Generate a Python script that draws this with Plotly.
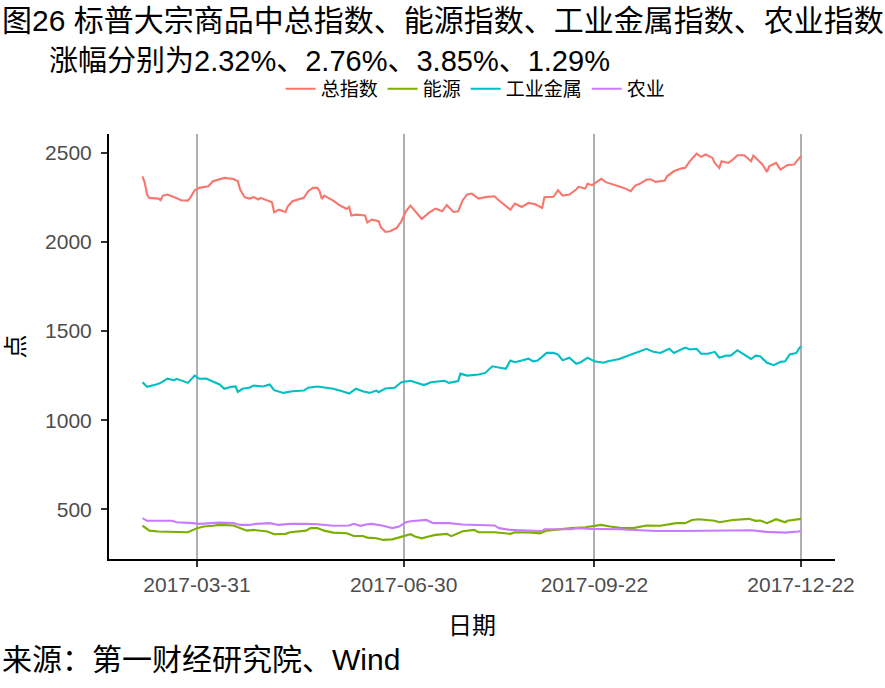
import plotly.graph_objects as go

# ---------------- data ----------------
SERIES_NAMES = ["总指数", "能源", "工业金属", "农业"]
SERIES_COLORS = ["#F8766D", "#7CAE00", "#00BFC4", "#C77CFF"]

TOTAL = [
    ("2017-03-07", 2367), ("2017-03-08", 2330), ("2017-03-09", 2265), ("2017-03-10", 2246),
    ("2017-03-14", 2242), ("2017-03-15", 2233), ("2017-03-16", 2259), ("2017-03-18", 2265),
    ("2017-03-21", 2250), ("2017-03-24", 2233), ("2017-03-27", 2231), ("2017-03-28", 2246),
    ("2017-03-30", 2289), ("2017-04-01", 2302), ("2017-04-05", 2311), ("2017-04-07", 2339),
    ("2017-04-12", 2358), ("2017-04-14", 2355), ("2017-04-16", 2352), ("2017-04-18", 2339),
    ("2017-04-19", 2293), ("2017-04-21", 2250), ("2017-04-23", 2242), ("2017-04-25", 2250),
    ("2017-04-27", 2237), ("2017-04-28", 2246), ("2017-05-01", 2231), ("2017-05-03", 2222),
    ("2017-05-04", 2165), ("2017-05-06", 2180), ("2017-05-09", 2167), ("2017-05-10", 2199),
    ("2017-05-12", 2227), ("2017-05-15", 2240), ("2017-05-17", 2246), ("2017-05-19", 2283),
    ("2017-05-21", 2302), ("2017-05-23", 2302), ("2017-05-24", 2283), ("2017-05-25", 2240),
    ("2017-05-26", 2259), ("2017-05-30", 2231), ("2017-06-02", 2203), ("2017-06-05", 2184),
    ("2017-06-06", 2195), ("2017-06-07", 2147), ("2017-06-09", 2152), ("2017-06-13", 2147),
    ("2017-06-14", 2109), ("2017-06-16", 2124), ("2017-06-19", 2115), ("2017-06-20", 2081),
    ("2017-06-22", 2055), ("2017-06-24", 2059), ("2017-06-27", 2078), ("2017-06-29", 2115),
    ("2017-07-01", 2171), ("2017-07-03", 2203), ("2017-07-05", 2171), ("2017-07-08", 2128),
    ("2017-07-11", 2162), ("2017-07-14", 2186), ("2017-07-17", 2171), ("2017-07-19", 2205),
    ("2017-07-22", 2167), ("2017-07-24", 2171), ("2017-07-26", 2233), ("2017-07-28", 2265),
    ("2017-07-30", 2270), ("2017-08-02", 2242), ("2017-08-05", 2250), ("2017-08-09", 2255),
    ("2017-08-11", 2231), ("2017-08-16", 2180), ("2017-08-18", 2214), ("2017-08-21", 2195),
    ("2017-08-24", 2218), ("2017-08-27", 2210), ("2017-08-30", 2190), ("2017-08-31", 2250),
    ("2017-09-04", 2252), ("2017-09-06", 2289), ("2017-09-08", 2259), ("2017-09-11", 2265),
    ("2017-09-14", 2293), ("2017-09-15", 2308), ("2017-09-18", 2298), ("2017-09-19", 2325),
    ("2017-09-21", 2317), ("2017-09-25", 2353), ("2017-09-27", 2334), ("2017-10-01", 2317),
    ("2017-10-05", 2302), ("2017-10-08", 2283), ("2017-10-10", 2315), ("2017-10-12", 2325),
    ("2017-10-15", 2349), ("2017-10-17", 2349), ("2017-10-19", 2336), ("2017-10-23", 2343),
    ("2017-10-24", 2367), ("2017-10-27", 2395), ("2017-10-30", 2410), ("2017-11-01", 2414),
    ("2017-11-03", 2451), ("2017-11-06", 2494), ("2017-11-08", 2476), ("2017-11-10", 2489),
    ("2017-11-13", 2470), ("2017-11-14", 2442), ("2017-11-16", 2414), ("2017-11-17", 2451),
    ("2017-11-20", 2442), ("2017-11-22", 2461), ("2017-11-24", 2485), ("2017-11-27", 2485),
    ("2017-11-30", 2451), ("2017-12-01", 2483), ("2017-12-04", 2448), ("2017-12-05", 2433),
    ("2017-12-07", 2392), ("2017-12-08", 2423), ("2017-12-11", 2442), ("2017-12-13", 2405),
    ("2017-12-16", 2430), ("2017-12-19", 2433), ("2017-12-20", 2451), ("2017-12-22", 2479),
]

ENERGY = [
    ("2017-03-07", 409), ("2017-03-10", 381), ("2017-03-14", 376), ("2017-03-22", 376),
    ("2017-03-27", 372), ("2017-03-31", 395), ("2017-04-03", 404), ("2017-04-07", 408),
    ("2017-04-10", 413), ("2017-04-16", 410), ("2017-04-19", 395), ("2017-04-22", 381),
    ("2017-04-25", 385), ("2017-05-01", 376), ("2017-05-04", 361), ("2017-05-09", 363),
    ("2017-05-11", 372), ("2017-05-15", 376), ("2017-05-18", 381), ("2017-05-20", 395),
    ("2017-05-23", 395), ("2017-05-26", 381), ("2017-05-30", 370), ("2017-06-05", 366),
    ("2017-06-08", 351), ("2017-06-12", 351), ("2017-06-14", 342), ("2017-06-18", 338),
    ("2017-06-21", 329), ("2017-06-25", 332), ("2017-06-28", 344), ("2017-07-03", 361),
    ("2017-07-05", 348), ("2017-07-08", 338), ("2017-07-11", 348), ("2017-07-14", 357),
    ("2017-07-19", 363), ("2017-07-21", 350), ("2017-07-26", 378), ("2017-07-31", 385),
    ("2017-08-02", 372), ("2017-08-09", 372), ("2017-08-16", 363), ("2017-08-18", 372),
    ("2017-08-26", 370), ("2017-08-29", 366), ("2017-09-01", 381), ("2017-09-06", 389),
    ("2017-09-12", 395), ("2017-09-18", 400), ("2017-09-25", 413), ("2017-09-29", 404),
    ("2017-10-04", 395), ("2017-10-09", 395), ("2017-10-12", 404), ("2017-10-15", 410),
    ("2017-10-21", 408), ("2017-10-28", 423), ("2017-11-01", 423), ("2017-11-04", 441),
    ("2017-11-07", 445), ("2017-11-14", 436), ("2017-11-16", 428), ("2017-11-22", 441),
    ("2017-11-29", 447), ("2017-12-02", 436), ("2017-12-04", 438), ("2017-12-07", 423),
    ("2017-12-11", 445), ("2017-12-15", 428), ("2017-12-16", 436), ("2017-12-22", 447),
]

METALS = [
    ("2017-03-07", 1213), ("2017-03-09", 1187), ("2017-03-13", 1200), ("2017-03-15", 1209),
    ("2017-03-18", 1233), ("2017-03-21", 1224), ("2017-03-22", 1232), ("2017-03-24", 1224),
    ("2017-03-27", 1209), ("2017-03-30", 1250), ("2017-04-01", 1232), ("2017-04-04", 1234),
    ("2017-04-07", 1215), ("2017-04-10", 1200), ("2017-04-12", 1176), ("2017-04-15", 1187),
    ("2017-04-17", 1189), ("2017-04-18", 1159), ("2017-04-20", 1176), ("2017-04-23", 1182),
    ("2017-04-25", 1194), ("2017-04-29", 1189), ("2017-05-02", 1200), ("2017-05-04", 1168),
    ("2017-05-08", 1153), ("2017-05-12", 1162), ("2017-05-17", 1166), ("2017-05-19", 1182),
    ("2017-05-23", 1189), ("2017-05-26", 1182), ("2017-05-30", 1176), ("2017-06-03", 1162),
    ("2017-06-06", 1149), ("2017-06-09", 1176), ("2017-06-12", 1162), ("2017-06-15", 1153),
    ("2017-06-18", 1166), ("2017-06-19", 1157), ("2017-06-22", 1178), ("2017-06-26", 1182),
    ("2017-06-29", 1213), ("2017-07-03", 1221), ("2017-07-06", 1207), ("2017-07-09", 1197),
    ("2017-07-12", 1213), ("2017-07-18", 1221), ("2017-07-20", 1209), ("2017-07-24", 1219),
    ("2017-07-25", 1261), ("2017-07-28", 1250), ("2017-08-02", 1256), ("2017-08-05", 1265),
    ("2017-08-08", 1302), ("2017-08-10", 1298), ("2017-08-14", 1288), ("2017-08-16", 1334),
    ("2017-08-18", 1325), ("2017-08-21", 1334), ("2017-08-24", 1345), ("2017-08-26", 1330),
    ("2017-08-28", 1334), ("2017-09-01", 1377), ("2017-09-04", 1377), ("2017-09-06", 1368),
    ("2017-09-08", 1336), ("2017-09-11", 1350), ("2017-09-14", 1316), ("2017-09-16", 1325),
    ("2017-09-19", 1350), ("2017-09-22", 1330), ("2017-09-26", 1322), ("2017-09-28", 1330),
    ("2017-10-03", 1343), ("2017-10-07", 1362), ("2017-10-10", 1377), ("2017-10-15", 1400),
    ("2017-10-18", 1383), ("2017-10-21", 1377), ("2017-10-25", 1400), ("2017-10-27", 1377),
    ("2017-11-01", 1407), ("2017-11-03", 1396), ("2017-11-06", 1400), ("2017-11-08", 1372),
    ("2017-11-11", 1372), ("2017-11-14", 1383), ("2017-11-16", 1350), ("2017-11-19", 1362),
    ("2017-11-21", 1362), ("2017-11-24", 1392), ("2017-11-27", 1368), ("2017-11-30", 1343),
    ("2017-12-02", 1362), ("2017-12-04", 1358), ("2017-12-07", 1322), ("2017-12-10", 1308),
    ("2017-12-13", 1327), ("2017-12-15", 1330), ("2017-12-17", 1368), ("2017-12-20", 1377),
    ("2017-12-21", 1400), ("2017-12-22", 1414),
]

AGRI = [
    ("2017-03-07", 451), ("2017-03-09", 436), ("2017-03-20", 436), ("2017-03-22", 428),
    ("2017-03-29", 423), ("2017-04-01", 419), ("2017-04-10", 426), ("2017-04-16", 423),
    ("2017-04-19", 413), ("2017-04-23", 413), ("2017-04-26", 419), ("2017-05-02", 423),
    ("2017-05-06", 413), ("2017-05-11", 419), ("2017-05-18", 419), ("2017-05-23", 417),
    ("2017-05-30", 408), ("2017-06-06", 410), ("2017-06-08", 419), ("2017-06-11", 408),
    ("2017-06-14", 417), ("2017-06-16", 419), ("2017-06-21", 408), ("2017-06-25", 395),
    ("2017-06-28", 404), ("2017-07-01", 428), ("2017-07-03", 434), ("2017-07-07", 436),
    ("2017-07-10", 441), ("2017-07-13", 423), ("2017-07-20", 423), ("2017-07-26", 415),
    ("2017-08-01", 413), ("2017-08-05", 408), ("2017-08-09", 410), ("2017-08-11", 395),
    ("2017-08-16", 385), ("2017-08-23", 381), ("2017-08-30", 379), ("2017-08-31", 389),
    ("2017-09-04", 389), ("2017-09-12", 389), ("2017-09-14", 395), ("2017-09-21", 391),
    ("2017-10-03", 389), ("2017-10-09", 385), ("2017-10-19", 379), ("2017-10-31", 379),
    ("2017-11-14", 381), ("2017-11-30", 383), ("2017-12-07", 374), ("2017-12-15", 370),
    ("2017-12-21", 376), ("2017-12-22", 381),
]

X_TICKS = ["2017-03-31", "2017-06-30", "2017-09-22", "2017-12-22"]
Y_TICKS = [500, 1000, 1500, 2000, 2500]

TITLE_LINE1 = "图26 标普大宗商品中总指数、能源指数、工业金属指数、农业指数"
TITLE_LINE2 = "涨幅分别为2.32%、2.76%、3.85%、1.29%"
SOURCE = "来源：第一财经研究院、Wind"
X_TITLE = "日期"
Y_TITLE = "点"

# ---------------- figure ----------------
FONT = "Liberation Sans, Arial, Noto Sans CJK SC, sans-serif"

fig = go.Figure()
for name, color, series in zip(SERIES_NAMES, SERIES_COLORS, [TOTAL, ENERGY, METALS, AGRI]):
    xs = [d for d, _ in series]
    ys = [v for _, v in series]
    fig.add_trace(go.Scatter(x=xs, y=ys, mode="lines", name=name,
                             line=dict(color=color, width=2.1)))

fig.update_layout(
    width=885, height=688,
    margin=dict(l=109, r=50, t=134, b=129),
    paper_bgcolor="white", plot_bgcolor="white",
    font=dict(family=FONT, color="black"),
    showlegend=True,
    legend=dict(orientation="h", x=0.505, xanchor="center", y=1.106, yanchor="middle",
                font=dict(size=19, color="black"), bgcolor="rgba(0,0,0,0)",
                itemwidth=30, tracegroupgap=0),
    xaxis=dict(
        type="date",
        range=["2017-02-20 06:00", "2018-01-05 23:00"],
        tickvals=X_TICKS, tickformat="%Y-%m-%d",
        showgrid=True, gridcolor="#B0B0B0", gridwidth=1.8,
        showline=True, linecolor="black", linewidth=2,
        ticks="outside", ticklen=6, tickwidth=1.6, tickcolor="#333333",
        tickfont=dict(size=21, color="#4D4D4D"),
        zeroline=False,
        title=dict(text=X_TITLE, font=dict(size=24, color="black"), standoff=22),
    ),
    yaxis=dict(
        range=[222, 2604],
        tickvals=Y_TICKS,
        showgrid=False,
        showline=True, linecolor="black", linewidth=2,
        ticks="outside", ticklen=6, tickwidth=1.6, tickcolor="#333333",
        tickfont=dict(size=21, color="#4D4D4D"),
        ticklabelstandoff=5,
        zeroline=False,
        title=dict(text=Y_TITLE, font=dict(size=24, color="black"), standoff=14),
    ),
    annotations=[
        dict(text=TITLE_LINE1, xref="paper", yref="paper", x=-0.1501, y=1.268,
             xanchor="left", yanchor="middle", showarrow=False,
             font=dict(size=30, color="black")),
        dict(text=TITLE_LINE2, xref="paper", yref="paper", x=-0.0854, y=1.172,
             xanchor="left", yanchor="middle", showarrow=False,
             font=dict(size=29, color="black")),
        dict(text=SOURCE, xref="paper", yref="paper", x=-0.1501, y=-0.2353,
             xanchor="left", yanchor="middle", showarrow=False,
             font=dict(size=30, color="black")),
    ],
)

fig.write_html("out.html")
